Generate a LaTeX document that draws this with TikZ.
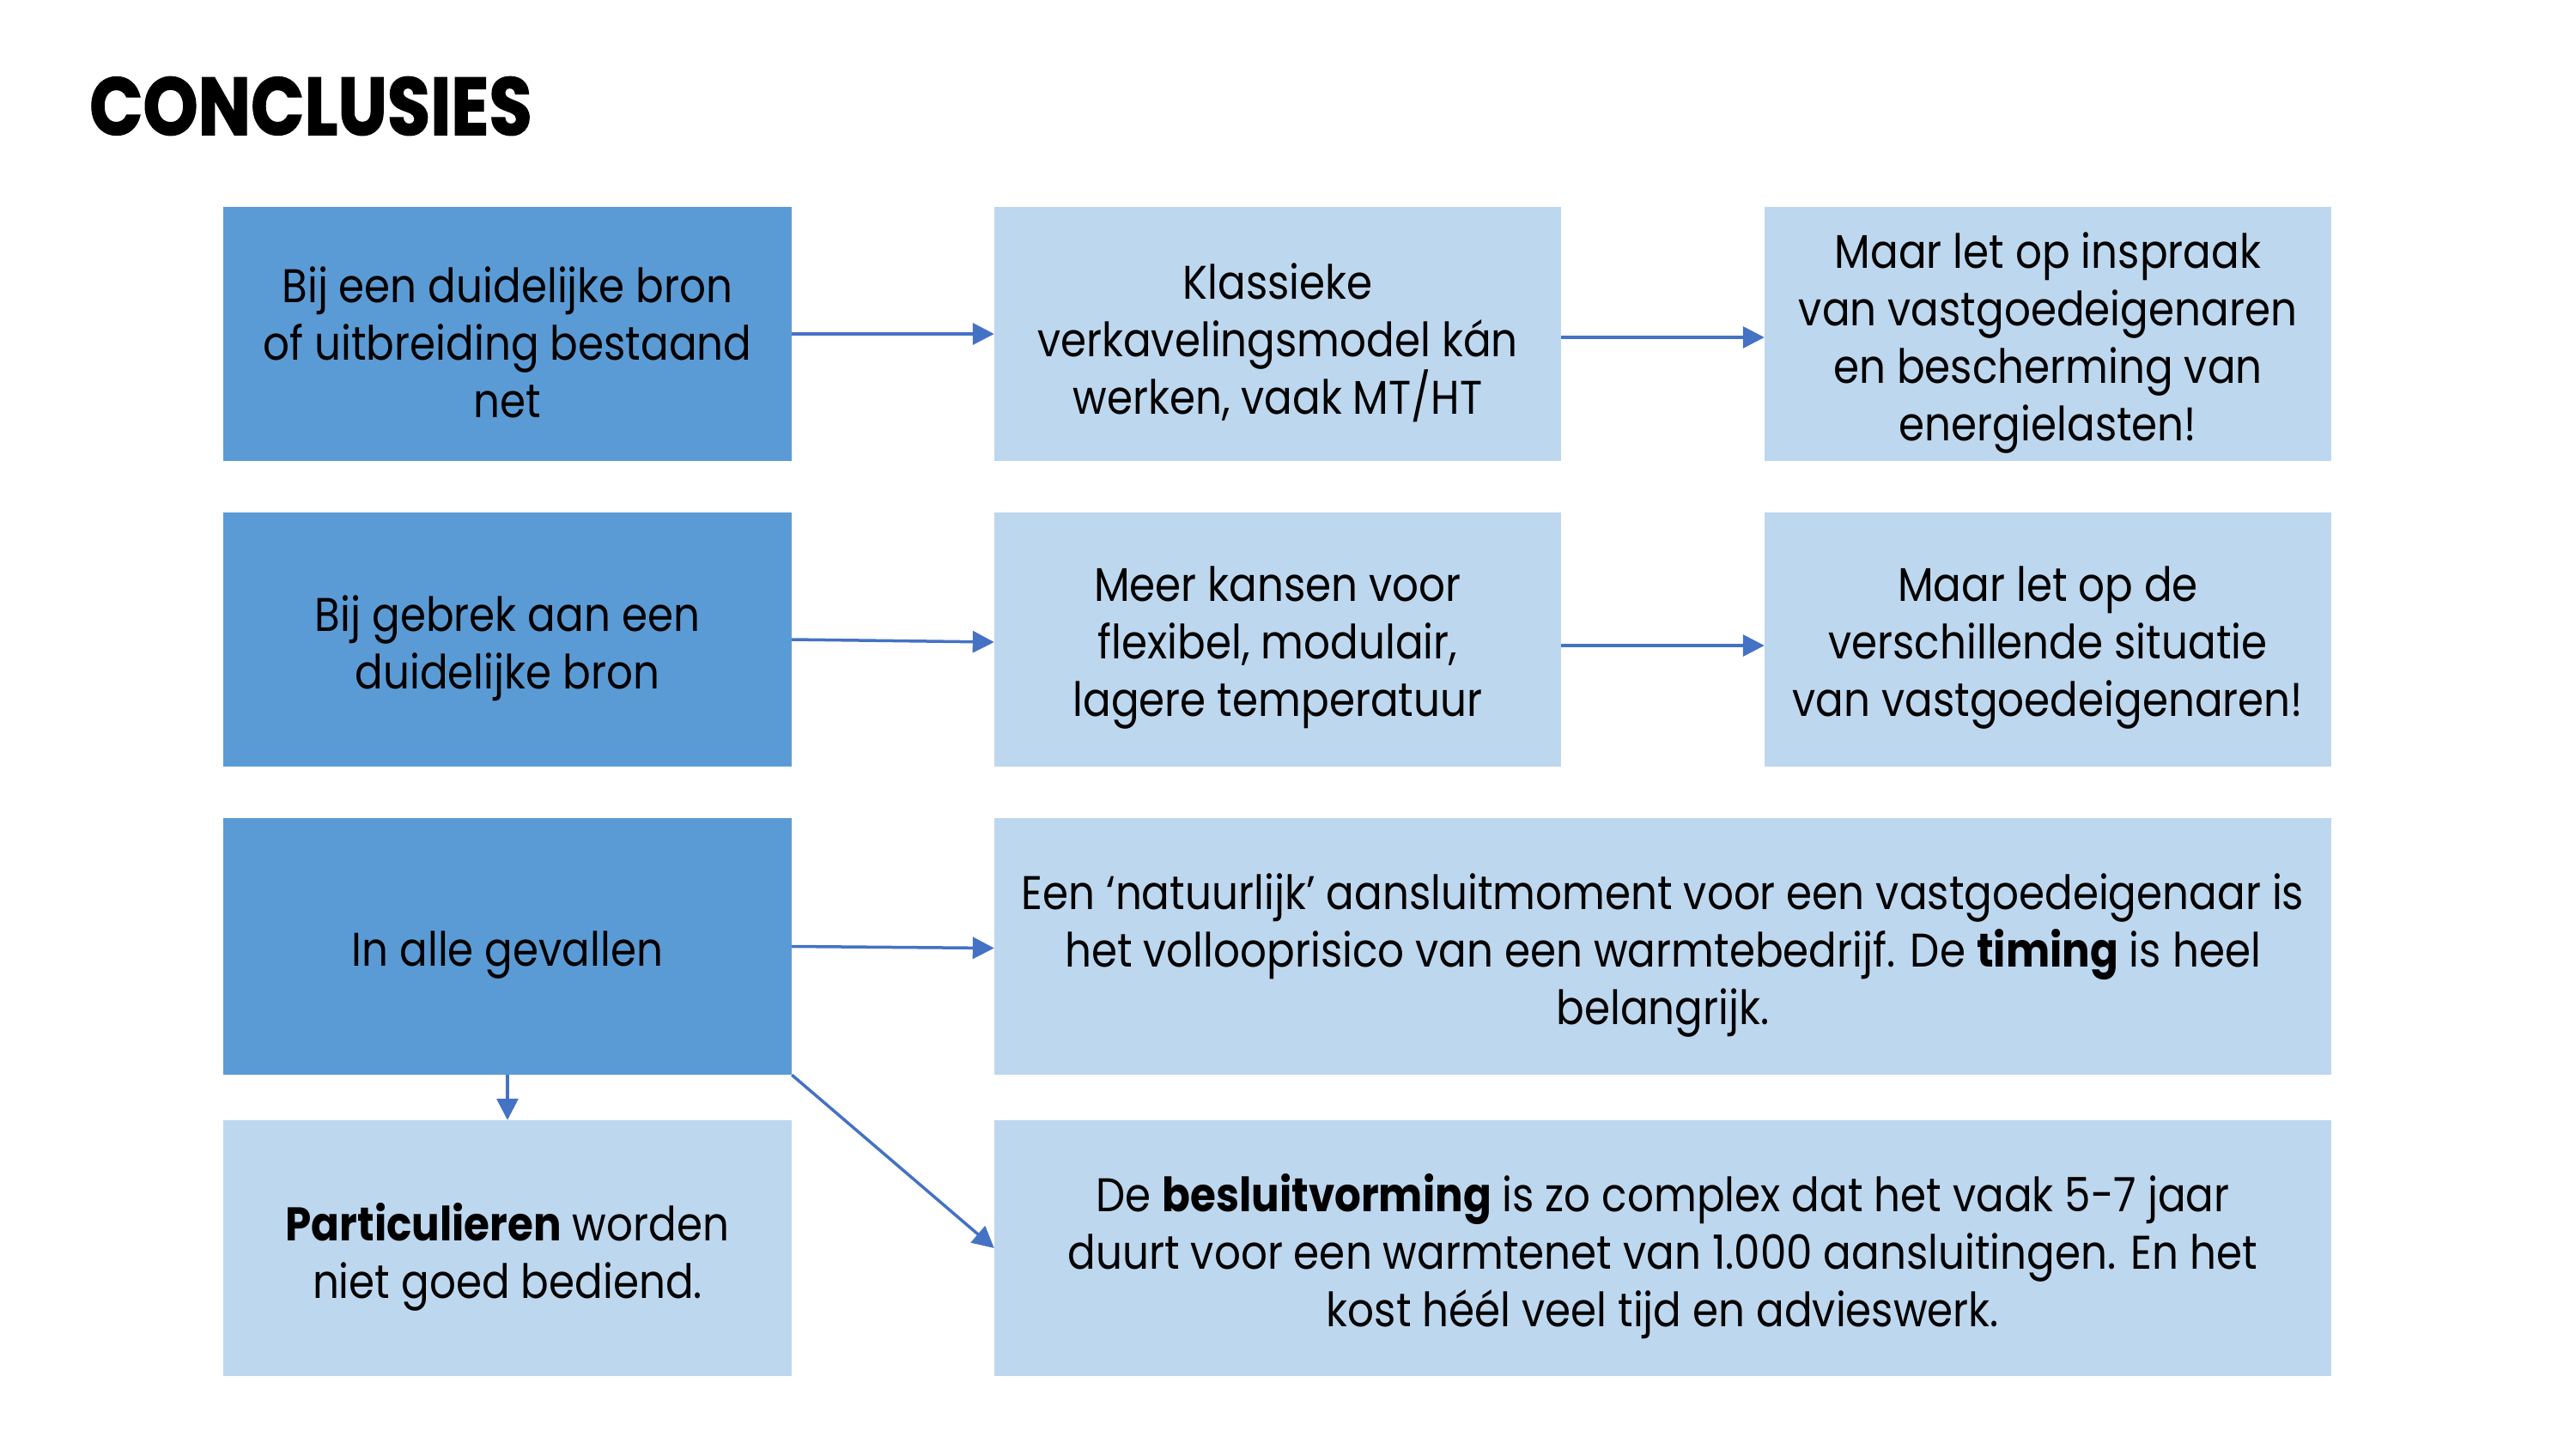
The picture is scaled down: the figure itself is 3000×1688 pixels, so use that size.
\documentclass[tikz,border=0pt]{standalone}
\usepackage{fontspec}
\usepackage{graphicx}
\setmainfont{Poppins}[FakeStretch=0.88]
\newfontfamily\titlefont{Poppins}[BoldFeatures={FakeBold=1.6}]
\usetikzlibrary{arrows.meta}
\definecolor{darkbox}{HTML}{5B9BD5}
\definecolor{lightbox}{HTML}{BDD7EE}
\definecolor{arrowc}{HTML}{4472C4}
\tikzset{
  boxbase/.style={rectangle, inner sep=0pt},
  darkb/.style={boxbase, fill=darkbox, minimum width=662pt, minimum height=296pt},
  lightb/.style={boxbase, fill=lightbox, minimum width=660pt, minimum height=296pt},
  wideb/.style={boxbase, fill=lightbox, minimum width=1557pt, minimum height=298pt},
  boxtext/.style={inner sep=0pt, align=center, text=black,
    font=\fontsize{55}{67}\selectfont},
  conn/.style={draw=arrowc, line width=3.5pt, -{Triangle[length=25pt, width=25pt]}}
}
\newcommand{\txt}[2]{\node[boxtext] (#1t) at ([yshift=-10pt]#1.center) {#2};}
\begin{document}
\begin{tikzpicture}[x=1pt, y=-1pt]
\useasboundingbox (0,0) rectangle (3000,1688);
\node[anchor=base west, inner sep=0pt] (title) at (104,157)
  {\scalebox{0.86}[1]{\titlefont\bfseries\fontsize{95}{95}\selectfont CONCLUSIES}};
% row 1
\node[darkb] (a1) at (591,389) {};
\node[lightb] (b1) at (1488,389) {};
\node[lightb] (c1) at (2385,389) {};
% row 2
\node[darkb] (a2) at (591,745) {};
\node[lightb] (b2) at (1488,745) {};
\node[lightb] (c2) at (2385,745) {};
% row 3
\node[darkb, minimum height=299pt] (a3) at (591,1102.5) {};
\node[wideb, minimum height=299pt] (b3) at (1936.5,1102.5) {};
% row 4
\node[lightb, minimum width=662pt, minimum height=298pt] (a4) at (591,1454) {};
\node[wideb] (b4) at (1936.5,1454) {};
% texts
\txt{a1}{Bij een duidelijke bron\\of uitbreiding bestaand\\net}
\txt{b1}{Klassieke\\verkavelingsmodel kán\\werken, vaak MT/HT}
\txt{c1}{Maar let op inspraak\\van vastgoedeigenaren\\en bescherming van\\energielasten!}
\txt{a2}{Bij gebrek aan een\\duidelijke bron}
\txt{b2}{Meer kansen voor\\flexibel, modulair,\\lagere temperatuur}
\txt{c2}{Maar let op de\\verschillende situatie\\van vastgoedeigenaren!}
\txt{a3}{In alle gevallen}
\txt{b3}{Een ‘natuurlijk’ aansluitmoment voor een vastgoedeigenaar is\\het vollooprisico van een warmtebedrijf. De \textbf{timing} is heel\\belangrijk.}
\txt{a4}{\textbf{Particulieren} worden\\niet goed bediend.}
\txt{b4}{De \textbf{besluitvorming} is zo complex dat het vaak 5-7 jaar\\duurt voor een warmtenet van 1.000 aansluitingen. En het\\kost héél veel tijd en advieswerk.}
% connectors
\draw[conn] (a1.east) -- (b1.west);
\draw[conn] ([yshift=-4pt]b1.east) -- ([yshift=-4pt]c1.west);
\draw[conn] (a2.east) -- ([yshift=-3pt]b2.west);
\draw[conn] ([yshift=-7pt]b2.east) -- ([yshift=-7pt]c2.west);
\draw[conn] (a3.east) -- ([yshift=-2pt]b3.west);
\draw[conn] (a3.south) -- (a4.north);
\draw[conn] (a3.south east) -- (b4.west);
\end{tikzpicture}
\end{document}
